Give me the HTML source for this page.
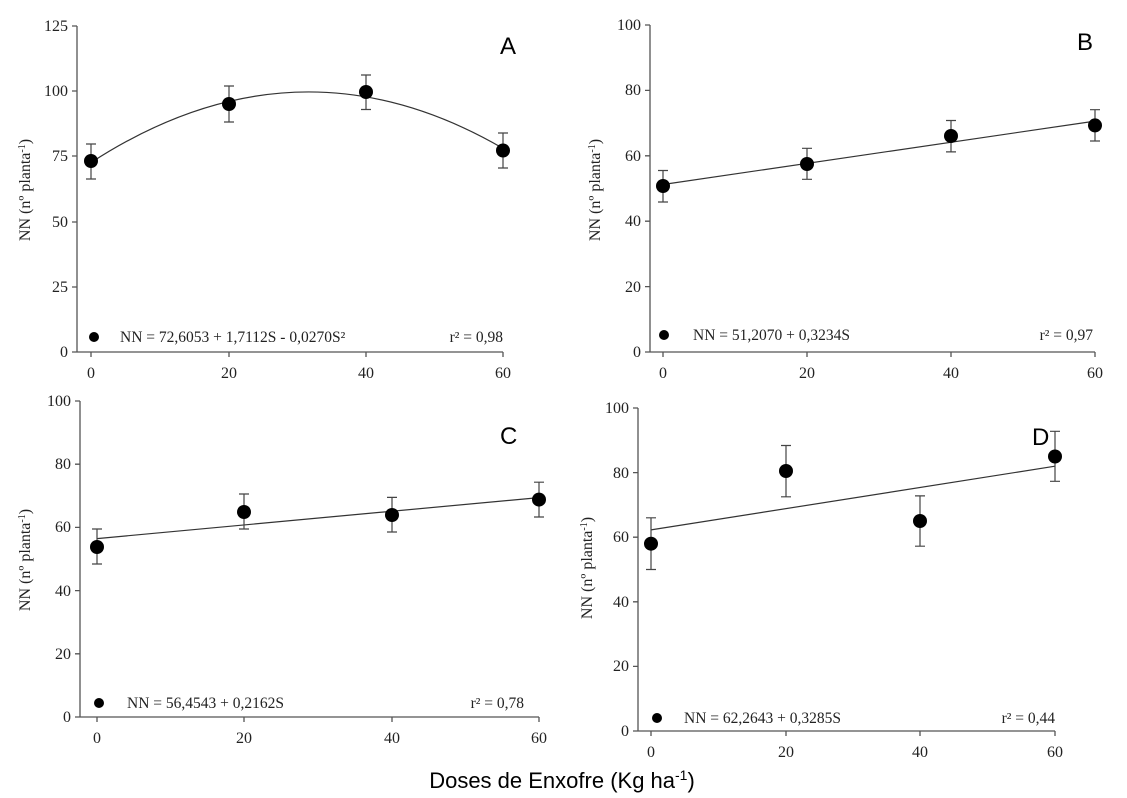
<!DOCTYPE html>
<html><head><meta charset="utf-8"><style>
body{margin:0;background:#fff}
svg{display:block}
.t{font-family:"Liberation Serif",serif;font-size:16px;fill:#222}
.y{font-family:"Liberation Serif",serif;font-size:16px;fill:#222}
.e{font-family:"Liberation Serif",serif;font-size:15.5px;fill:#222}
.L{font-family:"Liberation Sans",sans-serif;font-size:24px;fill:#000}
.ax{stroke:#555;stroke-width:1.3;fill:none}
.ln{stroke:#333;stroke-width:1.2;fill:none}
.er{stroke:#444;stroke-width:1.2;fill:none}
</style></head><body>
<svg width="1127" height="798" viewBox="0 0 1127 798" xmlns="http://www.w3.org/2000/svg">
<!-- Panel A -->
<g>
<path class="ax" d="M77,26V352H503M72,26H77M72,91H77M72,156H77M72,222H77M72,287H77M72,352H77M91,352v5M229,352v5M366,352v5M503,352v5"/>
<g class="t" text-anchor="end"><text x="68" y="31">125</text><text x="68" y="96">100</text><text x="68" y="161">75</text><text x="68" y="227">50</text><text x="68" y="292">25</text><text x="68" y="357">0</text></g>
<g class="t" text-anchor="middle"><text x="91" y="378">0</text><text x="229" y="378">20</text><text x="366" y="378">40</text><text x="503" y="378">60</text></g>
<text class="y" transform="translate(30,190) rotate(-90)" text-anchor="middle">NN (nº planta<tspan dy="-5" font-size="10">-1</tspan><tspan dy="5">)</tspan></text>
<path class="ln" d="M91,162.6Q297,28.8 503,148.4"/>
<path class="er" d="M91,144V179M86,144h10M86,179h10M229,86V122M224,86h10M224,122h10M366,75V109.5M361,75h10M361,109.5h10M503,133V168M498,133h10M498,168h10"/>
<g fill="#000"><circle cx="91" cy="161" r="7"/><circle cx="229" cy="104" r="7"/><circle cx="366" cy="92" r="7"/><circle cx="503" cy="150.5" r="7"/><circle cx="94" cy="337" r="5"/></g>
<text class="e" x="120" y="342">NN = 72,6053 + 1,7112S - 0,0270S²</text>
<text class="e" x="503" y="342" text-anchor="end">r² = 0,98</text>
<text class="L" x="500" y="54">A</text>
</g>
<!-- Panel B -->
<g>
<path class="ax" d="M650,25V352H1095M645,25H650M645,90.4H650M645,155.8H650M645,221.2H650M645,286.6H650M645,352H650M663,352v5M807,352v5M951,352v5M1095,352v5"/>
<g class="t" text-anchor="end"><text x="641" y="30">100</text><text x="641" y="95">80</text><text x="641" y="161">60</text><text x="641" y="226">40</text><text x="641" y="292">20</text><text x="641" y="357">0</text></g>
<g class="t" text-anchor="middle"><text x="663" y="378">0</text><text x="807" y="378">20</text><text x="951" y="378">40</text><text x="1095" y="378">60</text></g>
<text class="y" transform="translate(600,190) rotate(-90)" text-anchor="middle">NN (nº planta<tspan dy="-5" font-size="10">-1</tspan><tspan dy="5">)</tspan></text>
<path class="ln" d="M663,184.5L1095,121.1"/>
<path class="er" d="M663,170.5V202M658,170.5h10M658,202h10M807,148.3V179.3M802,148.3h10M802,179.3h10M951,120.5V151.9M946,120.5h10M946,151.9h10M1095,109.7V141M1090,109.7h10M1090,141h10"/>
<g fill="#000"><circle cx="663" cy="186" r="7"/><circle cx="807" cy="164" r="7"/><circle cx="951" cy="136" r="7"/><circle cx="1095" cy="125.4" r="7"/><circle cx="664" cy="335" r="5"/></g>
<text class="e" x="693" y="340">NN = 51,2070 + 0,3234S</text>
<text class="e" x="1093" y="340" text-anchor="end">r² = 0,97</text>
<text class="L" x="1077" y="50">B</text>
</g>
<!-- Panel C -->
<g>
<path class="ax" d="M80,401V717H539M75,401H80M75,464.2H80M75,527.4H80M75,590.6H80M75,653.8H80M75,717H80M97,717v5M244,717v5M392,717v5M539,717v5"/>
<g class="t" text-anchor="end"><text x="71" y="406">100</text><text x="71" y="469">80</text><text x="71" y="532">60</text><text x="71" y="596">40</text><text x="71" y="659">20</text><text x="71" y="722">0</text></g>
<g class="t" text-anchor="middle"><text x="97" y="743">0</text><text x="244" y="743">20</text><text x="392" y="743">40</text><text x="539" y="743">60</text></g>
<text class="y" transform="translate(30,560) rotate(-90)" text-anchor="middle">NN (nº planta<tspan dy="-5" font-size="10">-1</tspan><tspan dy="5">)</tspan></text>
<path class="ln" d="M97,538.6L539,497.6"/>
<path class="er" d="M97,529V564M92,529h10M92,564h10M244,494V529M239,494h10M239,529h10M392,497.4V532M387,497.4h10M387,532h10M539,482.2V517M534,482.2h10M534,517h10"/>
<g fill="#000"><circle cx="97" cy="547" r="7"/><circle cx="244" cy="512" r="7"/><circle cx="392" cy="515" r="7"/><circle cx="539" cy="499.6" r="7"/><circle cx="99" cy="703" r="5"/></g>
<text class="e" x="127" y="708">NN = 56,4543 + 0,2162S</text>
<text class="e" x="524" y="708" text-anchor="end">r² =  0,78</text>
<text class="L" x="500" y="444">C</text>
</g>
<!-- Panel D -->
<g>
<path class="ax" d="M638,408V731H1055M633,408H638M633,472.6H638M633,537.2H638M633,601.8H638M633,666.4H638M633,731H638M651,731v5M786,731v5M920,731v5M1055,731v5"/>
<g class="t" text-anchor="end"><text x="629" y="413">100</text><text x="629" y="478">80</text><text x="629" y="542">60</text><text x="629" y="607">40</text><text x="629" y="671">20</text><text x="629" y="736">0</text></g>
<g class="t" text-anchor="middle"><text x="651" y="757">0</text><text x="786" y="757">20</text><text x="920" y="757">40</text><text x="1055" y="757">60</text></g>
<text class="y" transform="translate(592,568) rotate(-90)" text-anchor="middle">NN (nº planta<tspan dy="-5" font-size="10">-1</tspan><tspan dy="5">)</tspan></text>
<path class="ln" d="M651,529.9L1055,466.2"/>
<path class="er" d="M651,517.8V569.5M646,517.8h10M646,569.5h10M786,445.5V496.8M781,445.5h10M781,496.8h10M920,495.9V546.2M915,495.9h10M915,546.2h10M1055,431.3V481.3M1050,431.3h10M1050,481.3h10"/>
<g fill="#000"><circle cx="651" cy="543.7" r="7"/><circle cx="786" cy="471" r="7"/><circle cx="920" cy="521" r="7"/><circle cx="1055" cy="456.5" r="7"/><circle cx="657" cy="718" r="5"/></g>
<text class="e" x="684" y="723">NN = 62,2643 + 0,3285S</text>
<text class="e" x="1055" y="723" text-anchor="end">r² =  0,44</text>
<text class="L" x="1032" y="445">D</text>
</g>
<text x="562" y="788" text-anchor="middle" font-family="Liberation Sans, sans-serif" font-size="22" fill="#000">Doses de Enxofre (Kg ha<tspan dy="-8" font-size="14">-1</tspan><tspan dy="8">)</tspan></text>
</svg>
</body></html>
